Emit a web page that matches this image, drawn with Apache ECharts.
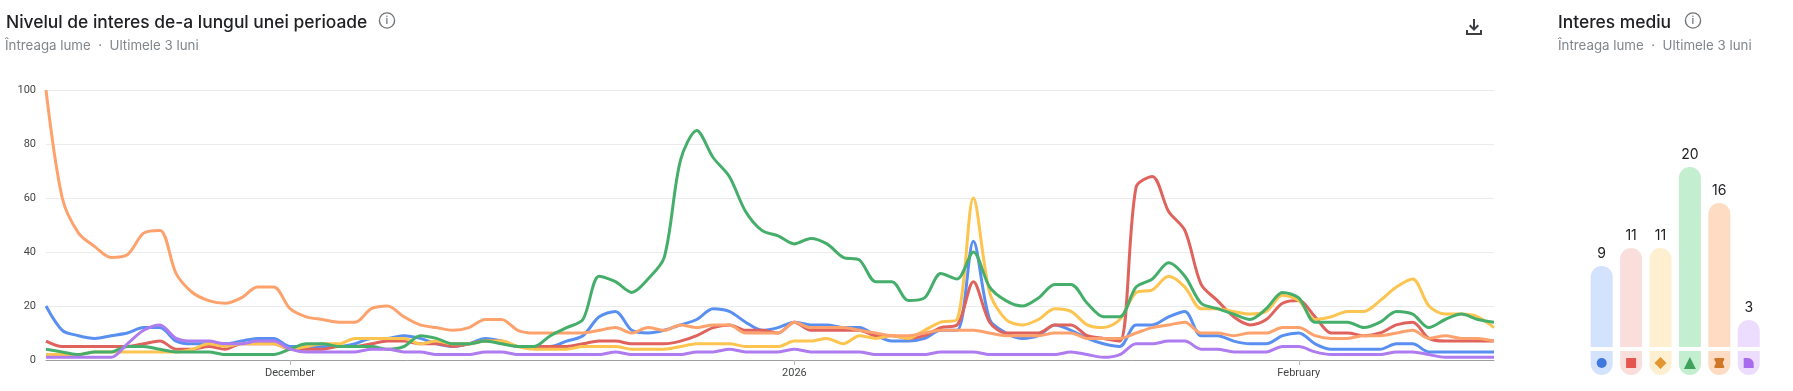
<!DOCTYPE html>
<html>
<head>
<meta charset="utf-8">
<title>Nivelul de interes</title>
<script src="https://cdn.jsdelivr.net/npm/echarts@6/dist/echarts.min.js"></script>
<style>
  html, body { margin: 0; padding: 0; background: #fff; }
  #chart { width: 1793px; height: 391px; }
</style>
</head>
<body>
<div id="chart"></div>
<script>
const blue = [20,11,9,8,9,10,12,12,7,6,6,6,7,8,8,5,5,5,5,6,8,8,9,8,6,5,6,8,7,5,5,5,7,9,16,18,11,10,11,13,15,19,18,14,11,12,14,13,13,12,12,9,7,7,8,11,11,44,15,10,8,9,13,11,8,6,5,13,13,16,18,9,9,7,6,6,9,10,6,4,4,4,4,6,6,3,3,3,3,3];
const red = [7,5,5,5,5,5,6,7,4,4,5,4,6,6,6,4,4,4,5,5,6,7,7,6,6,5,6,7,7,5,5,5,5,6,7,7,6,6,6,7,9,12,13,11,11,10,14,11,11,11,11,9,9,8,9,12,13,29,14,10,10,10,13,13,9,8,7,64,68,55,48,28,22,16,13,15,21,22,16,10,10,9,10,13,14,8,7,7,7,7];
const yellow = [2,2,2,3,3,3,3,3,3,4,6,5,6,6,6,4,5,6,6,8,8,8,8,6,7,6,6,7,7,5,4,4,4,5,5,5,4,4,4,5,6,6,6,5,5,5,7,7,8,6,9,8,9,8,11,14,15,60,25,15,13,15,19,18,13,12,15,25,26,31,27,19,19,18,17,18,24,22,15,16,18,18,22,27,30,20,17,17,16,12];
const green = [4,3,2,3,3,5,5,4,3,3,3,2,2,2,2,4,6,6,5,5,5,4,5,9,8,6,6,7,6,5,5,9,12,15,31,29,25,30,38,74,85,75,68,55,48,46,43,45,43,38,37,29,29,22,23,32,30,40,27,22,20,23,28,28,21,16,16,27,30,36,31,21,19,17,15,19,25,23,14,14,14,12,14,18,17,12,15,17,15,14];
const orange = [100,60,47,42,38,39,47,48,32,25,22,21,23,27,27,19,16,15,14,14,19,20,16,13,12,11,12,15,15,11,10,10,10,10,11,12,10,12,11,13,12,13,13,10,10,10,14,12,12,12,11,10,9,9,10,11,11,11,10,9,9,9,10,10,8,8,8,10,12,13,14,10,10,9,10,10,12,12,9,8,8,9,9,10,11,8,9,8,8,7];
const purple = [1,1,1,1,1,6,11,13,8,7,7,6,6,7,7,4,3,3,3,3,4,4,3,3,2,2,2,3,3,2,2,2,2,2,2,3,2,2,2,2,3,3,4,3,3,3,4,3,3,3,3,2,2,2,2,3,3,3,2,2,2,2,2,3,2,1,2,6,6,7,7,4,4,3,3,3,5,5,3,2,2,2,2,3,3,2,1,1,1,1];

const averages = [9, 11, 11, 20, 16, 3];
const termKeys = ['a', 'b', 'c', 'd', 'e', 'f'];
const lineColors = ['#5a8ff2', '#df625c', '#fdc44f', '#46ae6b', '#fea26d', '#ae7cf0'];
const barColors = ['#d3e3fd', '#fadedc', '#feefd0', '#c4eed0', '#fddcc3', '#ecdcfe'];
const iconColors = ['#1a5cd6', '#e0352b', '#db7f09', '#1e8e3e', '#c45c00', '#9550e8'];
const iconSymbols = [
  'circle',
  'path://M2 2h20v20H2z',
  'diamond',
  'triangle',
  'path://M4 2h16c3 0 3 4 0 7-1 1.5-1 4.5 0 6 3 3 3 7 0 7H4c-3 0-3-4 0-7 1-1.5 1-4.5 0-6-3-3-3-7 0-7z',
  'path://M2 2h8c7 0 12 6 12 12v8H2z'
];

const tickLabels = { '2025-12-01': 'December', '2026-01-01': '2026', '2026-02-01': 'February' };
const subtitle = 'Întreaga lume  ·  Ultimele 3 luni';

const days = [];
for (let d = new Date(Date.UTC(2025, 10, 16)); days.length < blue.length; d.setUTCDate(d.getUTCDate() + 1)) {
  days.push(d.toISOString().slice(0, 10));
}

const font = 'Inter, "Noto Sans", sans-serif';

function lineSeries(name, values, color) {
  return {
    name: name,
    type: 'line',
    data: values,
    smooth: 0.3,
    showSymbol: false,
    silent: true,
    lineStyle: { color: color, width: 3 },
    xAxisIndex: 0,
    yAxisIndex: 0
  };
}

function infoIcon(cx, cy) {
  return [
    { type: 'circle', shape: { cx: cx, cy: cy, r: 7.6 }, style: { fill: 'none', stroke: '#70757a', lineWidth: 1.4 } },
    { type: 'text', x: cx, y: cy, style: { text: 'i', fill: '#70757a', font: '500 11px ' + font, align: 'center', verticalAlign: 'middle' } }
  ];
}

function downloadIcon(cx, cy) {
  const stroke = { fill: 'none', stroke: '#3c4043', lineWidth: 2 };
  return [
    { type: 'line', shape: { x1: cx, y1: cy - 8, x2: cx, y2: cy + 3 }, style: stroke },
    { type: 'polyline', shape: { points: [[cx - 4.3, cy - 1.7], [cx, cy + 2.6], [cx + 4.3, cy - 1.7]] }, style: stroke },
    { type: 'polyline', shape: { points: [[cx - 7, cy + 3], [cx - 7, cy + 7], [cx + 7, cy + 7], [cx + 7, cy + 3]] }, style: stroke }
  ];
}

const myChart = echarts.init(document.getElementById('chart'), null, { renderer: 'canvas' });
myChart.setOption({
  animation: false,
  textStyle: { fontFamily: font },
  title: [
    { text: 'Nivelul de interes de-a lungul unei perioade', left: 1, top: 9,
      textStyle: { fontSize: 17.4, fontWeight: 500, color: '#202124', fontFamily: font } },
    { text: subtitle, left: 0, top: 34,
      textStyle: { fontSize: 13.3, fontWeight: 400, color: '#80868b', fontFamily: font } },
    { text: 'Interes mediu', left: 1553, top: 9,
      textStyle: { fontSize: 17.4, fontWeight: 500, color: '#202124', fontFamily: font } },
    { text: subtitle, left: 1553, top: 34,
      textStyle: { fontSize: 13.3, fontWeight: 400, color: '#80868b', fontFamily: font } }
  ],
  graphic: [
    ...infoIcon(387, 20.5),
    ...infoIcon(1693, 20.5),
    ...downloadIcon(1474, 27)
  ],
  grid: [
    { left: 46, right: 299, top: 90, bottom: 31 },
    { left: 1587, width: 176.4, top: 167, height: 180 },
    { left: 1587, width: 176.4, top: 351, height: 24 }
  ],
  xAxis: [
    {
      type: 'category', gridIndex: 0, data: days, boundaryGap: false,
      axisLine: { lineStyle: { color: '#9e9e9e', width: 1 } },
      axisTick: { show: true, length: 5, alignWithLabel: true, lineStyle: { color: '#bdbdbd' },
        interval: (i, day) => day in tickLabels },
      axisLabel: { interval: (i, day) => day in tickLabels, formatter: (day) => tickLabels[day],
        color: '#444746', fontSize: 11, fontFamily: 'Roboto', margin: 8, hideOverlap: false }
    },
    { type: 'category', gridIndex: 1, data: termKeys, show: false },
    { type: 'category', gridIndex: 2, data: termKeys, show: false }
  ],
  yAxis: [
    {
      type: 'value', gridIndex: 0, min: 0, max: 100, interval: 20,
      axisLine: { show: false }, axisTick: { show: false },
      axisLabel: { color: '#444746', fontSize: 11, fontFamily: 'Roboto', margin: 10 },
      splitLine: { lineStyle: { color: '#ebebeb', width: 1 } }
    },
    { type: 'value', gridIndex: 1, min: 0, max: 20, show: false },
    { type: 'value', gridIndex: 2, min: 0, max: 1, show: false }
  ],
  series: [
    lineSeries('blue', blue, lineColors[0]),
    lineSeries('red', red, lineColors[1]),
    lineSeries('yellow', yellow, lineColors[2]),
    lineSeries('orange', orange, lineColors[4]),
    lineSeries('green', green, lineColors[3]),
    lineSeries('purple', purple, lineColors[5]),
    {
      type: 'bar', xAxisIndex: 1, yAxisIndex: 1, barWidth: 22, silent: true,
      data: averages.map((v, i) => ({ value: v, itemStyle: { color: barColors[i], borderRadius: [11, 11, 0, 0] } })),
      label: { show: true, position: 'top', distance: 5, color: '#202124', fontSize: 14, fontFamily: font }
    },
    {
      type: 'bar', xAxisIndex: 2, yAxisIndex: 2, barWidth: 22, silent: true,
      data: averages.map((v, i) => ({ value: 1, itemStyle: { color: barColors[i], borderRadius: [0, 0, 11, 11] } }))
    },
    {
      type: 'scatter', xAxisIndex: 2, yAxisIndex: 2, silent: true, z: 5,
      data: averages.map((v, i) => ({
        value: [termKeys[i], 0.5],
        symbol: iconSymbols[i],
        symbolSize: i === 2 || i === 3 ? 12 : 10,
        itemStyle: { color: iconColors[i] }
      }))
    }
  ]
});
</script>
</body>
</html>
